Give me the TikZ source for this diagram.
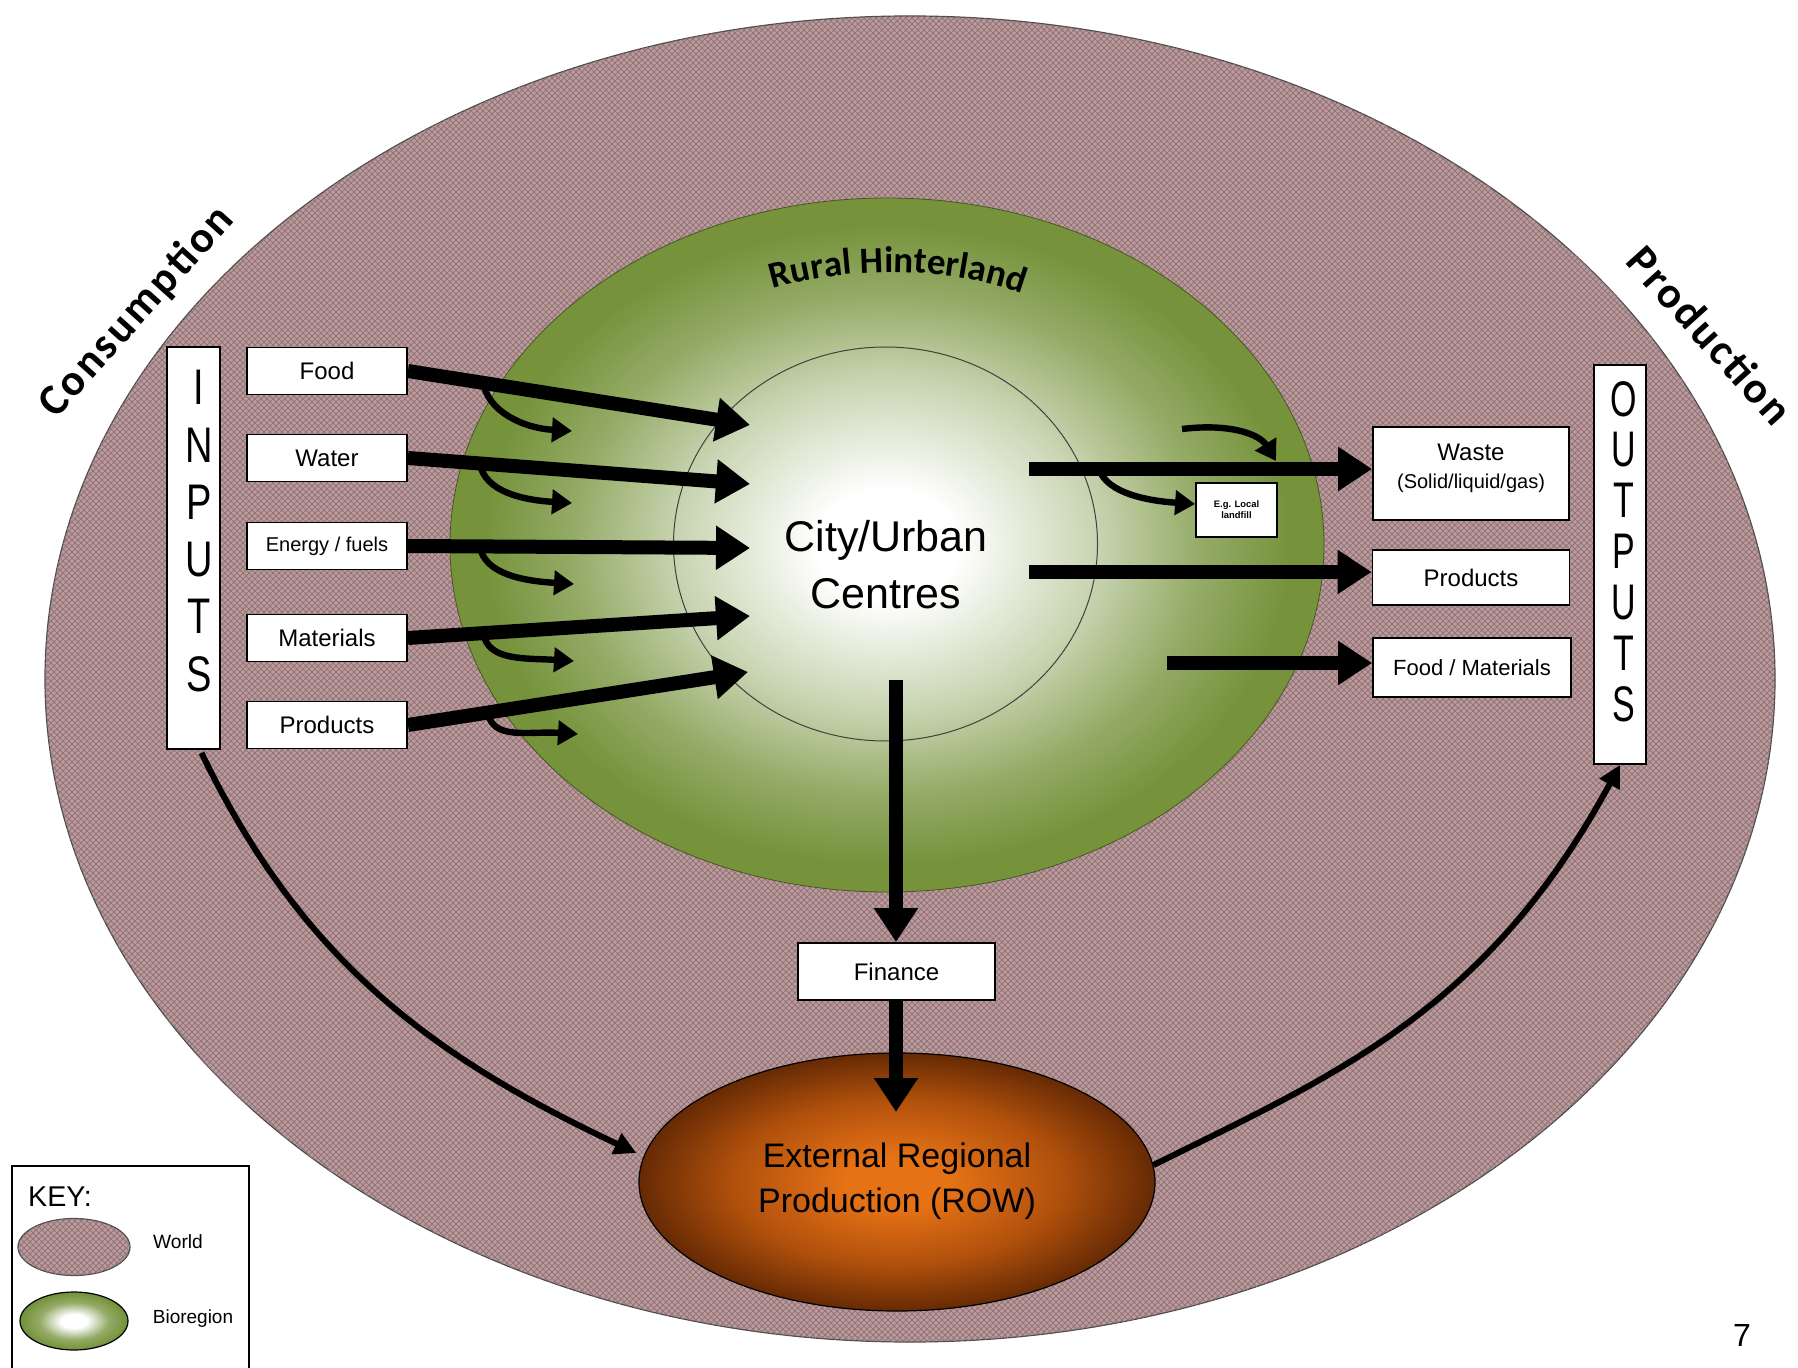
\documentclass[tikz,border=0pt]{standalone}
\usepackage{fontspec}
\setmainfont{Liberation Sans}
\newfontfamily\calfam{Carlito}[LetterSpace=6]
\newfontfamily\calplain{Carlito}
\newfontfamily\narrowA{Liberation Sans}[FakeStretch=0.76]
\newfontfamily\narrowB{Liberation Sans}[FakeStretch=0.68]
\usetikzlibrary{arrows.meta,decorations.text,patterns,calc,shapes.geometric}

\definecolor{worldbase}{RGB}{194,152,155}
\definecolor{worldline}{RGB}{138,120,123}
\definecolor{hgreen}{RGB}{118,147,60}
\colorlet{hgA}{hgreen!40!white}
\colorlet{hgB}{hgreen!78!white}
\definecolor{erpC}{RGB}{230,114,22}
\definecolor{erpM}{RGB}{176,80,12}
\definecolor{erpE}{RGB}{102,42,4}

\pgfdeclareradialshading{hinter}{\pgfpoint{0bp}{0bp}}{color(0bp)=(white); color(4bp)=(white); color(12bp)=(hgA); color(18bp)=(hgB); color(23bp)=(hgreen); color(50bp)=(hgreen)}
\pgfdeclareradialshading{keybio}{\pgfpoint{0bp}{0bp}}{color(0bp)=(white); color(6bp)=(white); color(16bp)=(hgB); color(24bp)=(hgreen); color(50bp)=(hgreen)}
\pgfdeclareradialshading{erpshade}{\pgfpoint{0bp}{0bp}}{color(0bp)=(erpC); color(5bp)=(erpC); color(16bp)=(erpM); color(25bp)=(erpE); color(50bp)=(erpE)}

\begin{document}
\begin{tikzpicture}[x=0.5pt,y=-0.5pt,
  worldnode/.style={ellipse, inner sep=0pt, draw=black!70, line width=0.6pt,
     preaction={fill=worldbase}, pattern=north east lines, pattern color=worldline,
     postaction={pattern=north west lines, pattern color=worldline}},
  box/.style={draw=black, line width=0.9pt, fill=white, inner sep=0pt, font=\fontsize{12}{14}\selectfont},
  inbox/.style={box, minimum width=80pt, minimum height=23.5pt},
  big/.style={line width=7pt, -{Triangle[length=17pt,width=21pt]}},
  small/.style={line width=3.2pt, -{Triangle[length=10pt,width=12pt]}},
  sweep/.style={line width=3pt, -{Triangle[length=11pt,width=11pt]}},
  inl/.style={font=\narrowA\fontsize{25}{28}\selectfont, inner sep=0pt},
  outl/.style={font=\narrowB\fontsize{25}{28}\selectfont, inner sep=0pt},
  bigword/.style={font=\calfam\bfseries\fontsize{22}{26}\selectfont, inner sep=0pt}
]
\useasboundingbox (0,0) rectangle (1798,1368);

% world
\node[worldnode, minimum width=865pt, minimum height=663pt] (world) at (910,679) {};
% rural hinterland
\node[ellipse, inner sep=0pt, minimum width=437pt, minimum height=347pt, shade, shading=hinter,
      draw=hgreen!60!black, line width=0.4pt] (hinter) at (887,545) {};
% city
\node[ellipse, inner sep=0pt, minimum width=212pt, minimum height=197pt, draw=black!75, line width=0.5pt] (city) at (885.5,544) {};
\node[font=\fontsize{21.5}{28.5}\selectfont, align=center, inner sep=0pt] (citytext) at (886,565) {City/Urban\\Centres};
% external regional production
\node[ellipse, inner sep=0pt, minimum width=258pt, minimum height=129pt, shade, shading=erpshade,
      draw=black, line width=0.6pt] (erp) at (897,1182) {};
\node[font=\fontsize{17}{22.8}\selectfont, align=center, inner sep=0pt] (erptext) at (897,1181) {External Regional\\Production (ROW)};

% curved labels
\node[bigword, rotate=48] (consumption) at (137,312) {Consumption};
\node[bigword, rotate=-48] (production) at (1710,335) {Production};
\path[decorate, decoration={text along path, text align=center,
   text={|\calplain\bfseries\fontsize{18.5}{20}\selectfont|Rural Hinterland}}]
   (762,292) .. controls (840,266) and (950,264) .. (1033,298);

% inputs
\node[box, minimum width=26.5pt, minimum height=201pt] (inputs) at (193.5,548) {};
\foreach \l [count=\i] in {I,N,P,U,T,S}
  \node[inl] (in\i) at (199,{387.6+57.3*(\i-1)}) {\l};
\node[inbox] (food) at (327,371) {Food};
\node[inbox] (water) at (327,458) {Water};
\node[inbox, font=\fontsize{10}{12}\selectfont] (energy) at (327,546) {Energy / fuels};
\node[inbox] (materials) at (327,638) {Materials};
\node[inbox] (products) at (327,725) {Products};

% outputs
\node[box, minimum width=26pt, minimum height=199.5pt] (outputs) at (1620,564.5) {};
\foreach \l [count=\i] in {O,U,T,P,U,T,S}
  \node[outl] (out\i) at (1624,{399+50.8*(\i-1)}) {\l};
\node[box, minimum width=98pt, minimum height=46.5pt] (waste) at (1471,473.5) {};
\node[inner sep=0pt, font=\fontsize{12}{14}\selectfont] (wasteA) at (1471,452.5) {Waste};
\node[inner sep=0pt, font=\fontsize{10}{12}\selectfont] (wasteB) at (1471,483) {(Solid/liquid/gas)};
\node[box, minimum width=98.5pt, minimum height=27.5pt] (prodout) at (1471,577.5) {Products};
\node[box, minimum width=99pt, minimum height=29.5pt, font=\fontsize{11}{13}\selectfont] (foodmat) at (1472,667.5) {Food / Materials};
\node[box, minimum width=40.5pt, minimum height=27pt, font=\bfseries\fontsize{4.7}{5.4}\selectfont, align=center] (landfill) at (1236.5,510) {E.g. Local\\landfill};
\node[box, minimum width=98.5pt, minimum height=28.5pt] (finance) at (896.5,971.5) {Finance};

% coordinates
\coordinate (tF) at (750,425);
\coordinate (tW) at (750,484);
\coordinate (tE) at (750,548);
\coordinate (tM) at (750,616);
\coordinate (tP) at (748,672);
\coordinate (sF) at (572,431);
\coordinate (sW) at (572,503);
\coordinate (sE) at (574,584);
\coordinate (sM) at (574,661);
\coordinate (sP) at (578,734);
\coordinate (bF) at ($(food.east)!0.22!(tF)$);
\coordinate (bW) at ($(water.east)!0.21!(tW)$);
\coordinate (bE) at ($(energy.east)!0.21!(tE)$);
\coordinate (bM) at ($(materials.east)!0.22!(tM)$);
\coordinate (bP) at ($(products.east)!0.235!(tP)$);
\coordinate (oW) at (1029,469);
\coordinate (oP) at (1029,572);
\coordinate (oM) at (1167,663);
\coordinate (bL) at (1099,469);
\coordinate (cA) at (1182,429);
\coordinate (cB) at (1276,461);
\coordinate (fS) at (896,680);
\coordinate (fE) at (896,1112);

% input arrows
\draw[big] (food.east) -- (tF);
\draw[big] (water.east) -- (tW);
\draw[big] (energy.east) -- (tE);
\draw[big] (materials.east) -- (tM);
\draw[big] (products.east) -- (tP);
\foreach \b/\s in {bF/sF,bW/sW,bE/sE,bM/sM,bP/sP}
  \draw[small] (\b) .. controls ($(\b)+(5,28)$) and ($(\s)+(-50,-3)$) .. (\s);

% output arrows
\draw[big] (oW) -- (oW -| waste.west);
\draw[big] (oP) -- (oP -| prodout.west);
\draw[big] (oM) -- (oM -| foodmat.west);
\draw[small] (bL) .. controls ($(bL)+(8,25)$) and ($(landfill.west)+(-45,-9)$) .. ($(landfill.west)+(0,-6)$);
\draw[small] (cA) .. controls ($(cA)+(50,-6)$) and ($(cB)+(-16,-26)$) .. (cB);

% finance
\draw[big] (fS) -- (finance.north -| fS);
\draw[big] (finance.south -| fE) -- (fE);

% sweeping arrows
\draw[sweep] ($(inputs.south)+(8,3)$) .. controls (301,959) and (430,1056) .. ($(erp.west)+(-2,-29)$);
\draw[sweep] ($(erp.east)+(-2,-17)$) .. controls (1332,1076) and (1486,1013) .. (outputs.south);

% key
\node[draw=black, line width=0.8pt, inner sep=0pt, minimum width=118.5pt, minimum height=117.5pt, anchor=north west] (key) at (11,1165) {};
\node[font=\fontsize{14.3}{16}\selectfont, inner sep=0pt] (keytitle) at (60,1197) {KEY:};
\node[worldnode, minimum width=56pt, minimum height=28.5pt] (keyworld) at (74,1247) {};
\node[ellipse, inner sep=0pt, minimum width=54pt, minimum height=29pt, shade, shading=keybio, draw=black, line width=0.6pt] (keybio) at (74,1321) {};
\node[font=\fontsize{9.6}{11}\selectfont, inner sep=0pt] (keyworldtext) at (178,1242) {World};
\node[font=\fontsize{9.5}{11}\selectfont, inner sep=0pt] (keybiotext) at (193,1319) {Bioregion};

% page number
\node[font=\fontsize{16}{18}\selectfont, inner sep=0pt] (pagenum) at (1742,1335) {7};
\end{tikzpicture}
\end{document}
